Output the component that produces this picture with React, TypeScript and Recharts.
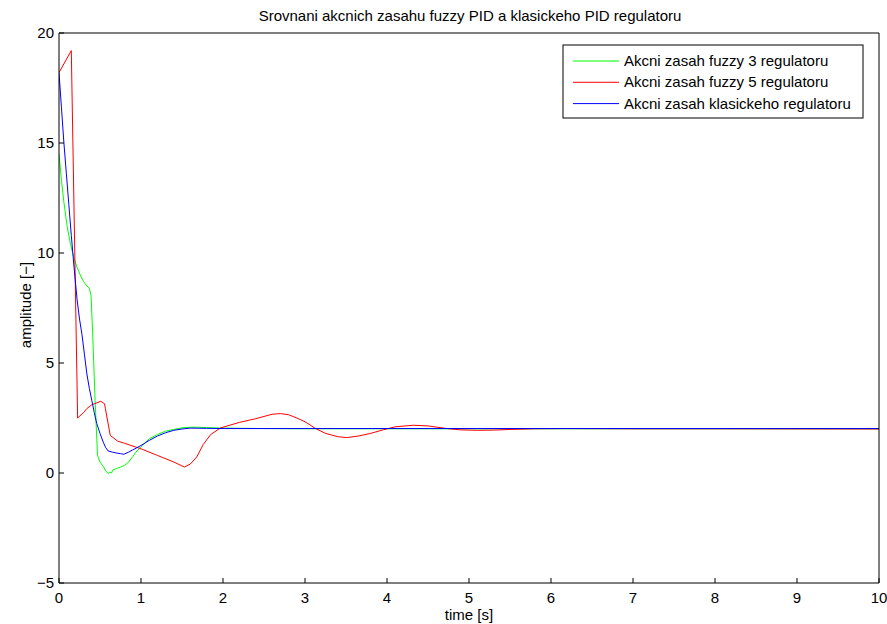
import { LineChart, Line, XAxis, YAxis } from 'recharts'

const TIME_TICKS = [0, 1, 2, 3, 4, 5, 6, 7, 8, 9, 10]
const AMP_TICKS = [-5, 0, 5, 10, 15, 20]

// akcni zasah fuzzy 3 regulatoru
const fuzzy3T = [0, 0.03, 0.06, 0.1, 0.14, 0.18, 0.22, 0.26, 0.3, 0.34, 0.37, 0.39, 0.41, 0.44, 0.47, 0.5, 0.54, 0.57, 0.6, 0.62, 0.64, 0.66, 0.7, 0.75, 0.8, 0.85, 0.9, 0.95, 1.0, 1.1, 1.2, 1.3, 1.4, 1.5, 1.6, 1.7, 1.8, 2.0, 2.5, 3, 4, 6, 8, 10]
const fuzzy3V = [14.5, 13.3, 12.3, 11.2, 10.4, 9.8, 9.35, 9.0, 8.7, 8.5, 8.4, 8.1, 6.4, 3.3, 0.8, 0.5, 0.3, 0.1, -0.03, 0.05, 0.0, 0.15, 0.2, 0.27, 0.35, 0.5, 0.75, 1.0, 1.2, 1.55, 1.75, 1.9, 1.98, 2.05, 2.08, 2.08, 2.06, 2.04, 2.02, 2.01, 2.01, 2.01, 2.01, 2.01]

// akcni zasah fuzzy 5 regulatoru
const fuzzy5T = [0, 0.15, 0.227, 0.3, 0.34, 0.4, 0.51, 0.555, 0.565, 0.625, 0.715, 0.8, 1.0, 1.2, 1.4, 1.53, 1.6, 1.68, 1.76, 1.85, 1.97, 2.2, 2.4, 2.6, 2.7, 2.8, 2.9, 3.0, 3.13, 3.25, 3.4, 3.51, 3.65, 3.8, 3.96, 4.1, 4.32, 4.5, 4.73, 4.9, 5.1, 5.3, 5.5, 5.8, 6.2, 7, 8, 10]
const fuzzy5V = [18.2, 19.2, 2.5, 2.75, 2.93, 3.1, 3.26, 3.15, 2.94, 1.71, 1.45, 1.35, 1.1, 0.8, 0.5, 0.27, 0.4, 0.73, 1.3, 1.75, 2.05, 2.3, 2.47, 2.67, 2.7, 2.65, 2.5, 2.33, 2.02, 1.8, 1.65, 1.61, 1.68, 1.8, 1.97, 2.1, 2.17, 2.14, 2.02, 1.96, 1.94, 1.95, 1.98, 2.01, 2.02, 2.01, 2.01, 2.0]

// akcni zasah klasickeho regulatoru
const klasT = [0, 0.03, 0.06, 0.09, 0.12, 0.15, 0.18, 0.22, 0.25, 0.28, 0.31, 0.34, 0.37, 0.4, 0.43, 0.46, 0.5, 0.54, 0.57, 0.6, 0.65, 0.71, 0.75, 0.79, 0.85, 0.9, 0.95, 1.0, 1.1, 1.2, 1.3, 1.4, 1.5, 1.6, 1.8, 2.0, 3, 5, 7, 10]
const klasV = [18.2, 16.6, 15.0, 13.6, 12.2, 10.8, 9.5, 7.9, 7.0, 6.3, 5.4, 4.5, 3.85, 3.3, 2.75, 2.25, 1.8, 1.4, 1.15, 1.0, 0.95, 0.9, 0.88, 0.85, 0.95, 1.05, 1.15, 1.25, 1.48, 1.68, 1.83, 1.94, 2.0, 2.04, 2.03, 2.02, 2.02, 2.02, 2.02, 2.02]

const SERIES = [
  { name: 'Akcni zasah fuzzy 3 regulatoru', color: '#00ff00', t: fuzzy3T, v: fuzzy3V },
  { name: 'Akcni zasah fuzzy 5 regulatoru', color: '#ff0000', t: fuzzy5T, v: fuzzy5V },
  { name: 'Akcni zasah klasickeho regulatoru', color: '#0000ff', t: klasT, v: klasV },
]

const FONT = 'Liberation Sans, Arial, Helvetica, sans-serif'
const tickStyle = { fontSize: 15, fill: '#000', fontFamily: FONT }
const minus = (v: number) => String(v).replace('-', '\u2212')

export default function App() {
  return (
    <div style={{ position: 'absolute', left: 0, top: 0, width: 887, height: 624, background: '#fff' }}>
      <LineChart width={887} height={624} margin={{ top: 32, right: 7, left: 9, bottom: 16 }}>
        <XAxis xAxisId="b" dataKey="t" type="number" domain={[0, 10]} ticks={TIME_TICKS} interval={0} allowDataOverflow
          height={25} tickSize={-5} tickMargin={14} tick={tickStyle} stroke="#000" />
        <XAxis xAxisId="top" orientation="top" type="number" domain={[0, 10]} ticks={TIME_TICKS} interval={0} allowDataOverflow
          height={1} tickSize={-5} tick={false} stroke="#000" />
        <YAxis yAxisId="l" type="number" domain={[-5, 20]} ticks={AMP_TICKS} interval={0} allowDataOverflow
          width={50} tickSize={-5} tickMargin={10} tick={tickStyle} tickFormatter={minus} stroke="#000" />
        <YAxis yAxisId="r" orientation="right" type="number" domain={[-5, 20]} ticks={AMP_TICKS} interval={0} allowDataOverflow
          width={1} tickSize={-5} tick={false} stroke="#000" />
        {SERIES.map(s => (
          <Line key={s.name} xAxisId="b" yAxisId="l" data={s.t.map((t, i) => ({ t, v: s.v[i] }))} dataKey="v"
            type="linear" stroke={s.color} strokeWidth={1} dot={false} activeDot={false} isAnimationActive={false} name={s.name} />
        ))}
      </LineChart>
      <svg width={887} height={624} style={{ position: 'absolute', left: 0, top: 0, pointerEvents: 'none' }}
        fontFamily={FONT} fontSize={15}>
        <text x={470} y={20.5} textAnchor="middle">Srovnani akcnich zasahu fuzzy PID a klasickeho PID regulatoru</text>
        <text x={469} y={620} textAnchor="middle">time [s]</text>
        <text x={0} y={0} textAnchor="middle" transform="translate(30.5,305) rotate(-90)">amplitude [{'\u2212'}]</text>
        <rect x={563} y={45} width={300} height={73} fill="#fff" stroke="#000" strokeWidth={1} />
        {SERIES.map((s, i) => (
          <g key={s.name}>
            <line x1={573} x2={619} y1={61 + i * 21.3} y2={61 + i * 21.3} stroke={s.color} strokeWidth={1} />
            <text x={624} y={66 + i * 21.3}>{s.name}</text>
          </g>
        ))}
      </svg>
    </div>
  )
}
